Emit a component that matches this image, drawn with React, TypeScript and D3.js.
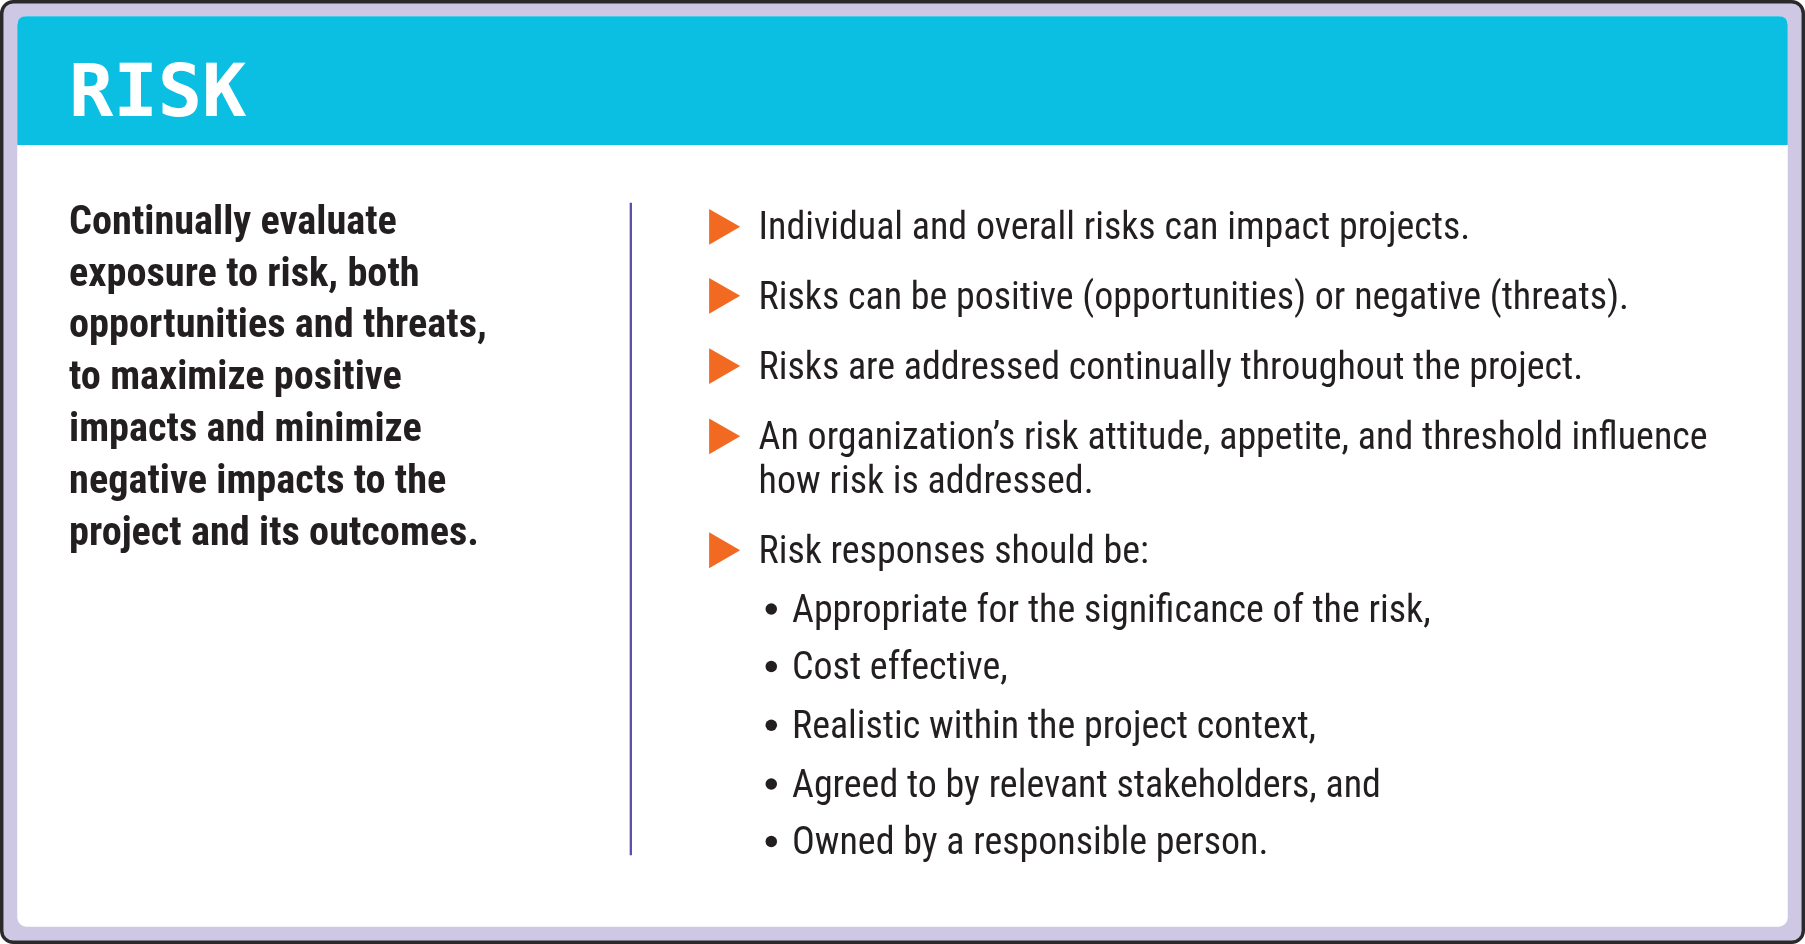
import { useEffect, useRef } from "react";
import * as d3 from "d3";

const TITLE = "RISK";
const SUMMARY_LINES = [
  "Continually evaluate",
  "exposure to risk, both",
  "opportunities and threats,",
  "to maximize positive",
  "impacts and minimize",
  "negative impacts to the",
  "project and its outcomes.",
];
const POINTS: string[][] = [
  ["Individual and overall risks can impact projects."],
  ["Risks can be positive (opportunities) or negative (threats)."],
  ["Risks are addressed continually throughout the project."],
  ["An organization\u2019s risk attitude, appetite, and threshold influence", "how risk is addressed."],
  ["Risk responses should be:"],
];
const SUB_POINTS = [
  "Appropriate for the significance of the risk,",
  "Cost effective,",
  "Realistic within the project context,",
  "Agreed to by relevant stakeholders, and",
  "Owned by a responsible person.",
];
// baseline of first line of each point (picture units)
const POINT_Y = [208, 268, 329, 390, 489];
const SUB_Y = [540, 590, 641, 692, 742];

const W = 1568;
const H = 820;
const FONT = "'Liberation Sans Narrow', 'Roboto Condensed', 'DejaVu Sans Condensed', sans-serif";

export default function App() {
  const ref = useRef<SVGSVGElement>(null);

  useEffect(() => {
    const svg = d3.select(ref.current);
    svg.selectAll("*").remove();

    svg.append("rect").attr("x", 1.5).attr("y", 1.5).attr("width", W - 3).attr("height", H - 3)
      .attr("rx", 10).attr("fill", "#cfc8e4").attr("stroke", "#2a2a2a").attr("stroke-width", 3);
    svg.append("rect").attr("x", 15).attr("y", 14).attr("width", W - 30).attr("height", H - 29)
      .attr("rx", 8).attr("fill", "#ffffff");
    svg.append("path")
      .attr("d", `M15,126 V22 Q15,14 23,14 H${W - 23} Q${W - 15},14 ${W - 15},22 V126 Z`)
      .attr("fill", "#0bbfe3");
    svg.append("text").attr("x", 60).attr("y", 101).attr("fill", "#fff")
      .attr("font-family", "'DejaVu Sans Mono', monospace").attr("font-weight", "bold")
      .attr("font-size", 64).text(TITLE);

    const lineY = d3.scaleLinear().domain([0, 1]).range([203, 248]);
    svg.append("g").selectAll("text").data(SUMMARY_LINES).join("text")
      .attr("x", 60).attr("y", (_, i) => lineY(i))
      .attr("font-family", FONT).attr("font-weight", "bold").attr("font-size", 35)
      .attr("fill", "#231f20").text((d) => d);

    svg.append("line").attr("x1", 548).attr("x2", 548).attr("y1", 176).attr("y2", 743)
      .attr("stroke", "#5b4ea8").attr("stroke-width", 2);

    const tri = d3.symbol().type(d3.symbolTriangle).size(420);
    POINTS.forEach((lines, i) => {
      const y = POINT_Y[i];
      svg.append("path").attr("d", tri()!)
        .attr("transform", `translate(625,${y - 11}) rotate(90)`).attr("fill", "#f26a21");
      lines.forEach((t, j) => {
        svg.append("text").attr("x", 659).attr("y", y + j * 38)
          .attr("font-family", FONT).attr("font-size", 33).attr("fill", "#231f20").text(t);
      });
    });

    SUB_POINTS.forEach((t, i) => {
      const y = SUB_Y[i];
      svg.append("circle").attr("cx", 670).attr("cy", y - 11).attr("r", 5).attr("fill", "#231f20");
      svg.append("text").attr("x", 688).attr("y", y)
        .attr("font-family", FONT).attr("font-size", 33).attr("fill", "#231f20").text(t);
    });
  }, []);

  return (
    <svg ref={ref} viewBox={`0 0 ${W} ${H}`} width={1805} height={944}
      style={{ position: "fixed", left: 0, top: 0, display: "block" }} />
  );
}
